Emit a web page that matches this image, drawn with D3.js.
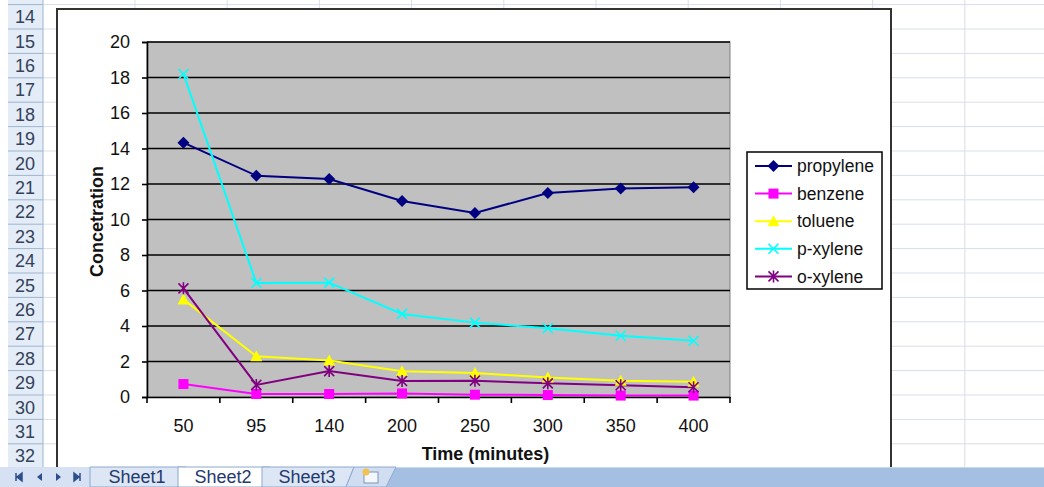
<!DOCTYPE html>
<html>
<head>
<meta charset="utf-8">
<script src="https://cdn.jsdelivr.net/npm/d3@7"></script>
<style>
  html, body { margin: 0; padding: 0; background: #ffffff; }
  svg { display: block; }
  text { font-family: "Liberation Sans", Arial, sans-serif; }
</style>
</head>
<body>
<svg id="sheet" width="1044" height="487"></svg>
<script>
// ---- data ----
const times = ["50", "95", "140", "200", "250", "300", "350", "400"];
const propylene = [14.33, 12.47, 12.28, 11.04, 10.37, 11.49, 11.74, 11.81];
const benzene   = [0.73, 0.17, 0.17, 0.20, 0.13, 0.11, 0.08, 0.08];
const toluene   = [5.5, 2.3, 2.05, 1.45, 1.35, 1.1, 0.92, 0.86];
const pXylene   = [18.2, 6.42, 6.44, 4.68, 4.19, 3.87, 3.45, 3.17];
const oXylene   = [6.12, 0.68, 1.46, 0.90, 0.92, 0.77, 0.66, 0.55];
const yTicks    = [0, 2, 4, 6, 8, 10, 12, 14, 16, 18, 20];
const rowNumbers = [14, 15, 16, 17, 18, 19, 20, 21, 22, 23, 24, 25, 26, 27, 28, 29, 30, 31, 32];
const sheetTabs = ["Sheet1", "Sheet2", "Sheet3"];

const series = [
  { name: "propylene", values: propylene, color: "#000080", marker: "diamond" },
  { name: "benzene",   values: benzene,   color: "#FF00FF", marker: "square" },
  { name: "toluene",   values: toluene,   color: "#FFFF00", marker: "triangle" },
  { name: "p-xylene",  values: pXylene,   color: "#00FFFF", marker: "cross" },
  { name: "o-xylene",  values: oXylene,   color: "#800080", marker: "star" }
];

const svg = d3.select("#sheet");
const W = 1044, H = 487;

// ---- worksheet background: cells, row headers ----
const rowTop0 = 4.6, rowH = 24.4;
const colX0 = 135, colW = 92.2;
const grid = svg.append("g");
const gridColor = "#D8DEEA";
// horizontal cell lines
for (let i = 0; i <= rowNumbers.length; i++) {
  const yy = rowTop0 + i * rowH;
  grid.append("line").attr("x1", 43).attr("x2", W).attr("y1", yy).attr("y2", yy)
    .attr("stroke", gridColor).attr("stroke-width", 1);
}
// vertical cell lines
for (let i = 0; i < 10; i++) {
  const xx = colX0 + i * colW;
  grid.append("line").attr("x1", xx).attr("x2", xx).attr("y1", 0).attr("y2", H)
    .attr("stroke", gridColor).attr("stroke-width", 1);
}
// row header column
const hdr = svg.append("g");
hdr.append("rect").attr("x", 8).attr("y", 0).attr("width", 35).attr("height", H)
  .attr("fill", "#E4ECF7");
hdr.append("line").attr("x1", 43).attr("x2", 43).attr("y1", 0).attr("y2", H)
  .attr("stroke", "#9EB6CE");
for (let i = 0; i <= rowNumbers.length; i++) {
  const yy = rowTop0 + i * rowH;
  hdr.append("line").attr("x1", 8).attr("x2", 43).attr("y1", yy).attr("y2", yy)
    .attr("stroke", "#9EB6CE");
}
hdr.selectAll("text.rownum").data(rowNumbers).join("text")
  .attr("class", "rownum")
  .attr("x", 25).attr("y", (d, i) => rowTop0 + i * rowH + rowH / 2)
  .attr("dy", "0.36em").attr("text-anchor", "middle")
  .attr("font-size", 18).attr("fill", "#33425a")
  .text(d => d);

// ---- chart object ----
const chart = { x: 57, y: 9, w: 834, h: 470 };
svg.append("rect").attr("x", chart.x).attr("y", chart.y)
  .attr("width", chart.w).attr("height", chart.h)
  .attr("fill", "#ffffff").attr("stroke", "#333333").attr("stroke-width", 2);

const plot = { left: 147, right: 730, top: 42, bottom: 397 };
const x = d3.scaleBand().domain(times).range([plot.left, plot.right]).padding(0);
const y = d3.scaleLinear().domain([0, 20]).range([plot.bottom, plot.top]);

const g = svg.append("g");
g.append("rect").attr("x", plot.left).attr("y", plot.top)
  .attr("width", plot.right - plot.left).attr("height", plot.bottom - plot.top)
  .attr("fill", "#C0C0C0").attr("stroke", "#808080").attr("stroke-width", 1);

// horizontal gridlines
g.append("g").selectAll("line").data(yTicks.filter(d => d > 0)).join("line")
  .attr("x1", plot.left).attr("x2", plot.right)
  .attr("y1", d => y(d)).attr("y2", d => y(d))
  .attr("stroke", "#000000").attr("stroke-width", 1.6);

// y axis
const yAxis = g.append("g").attr("transform", `translate(${plot.left},0)`)
  .call(d3.axisLeft(y).tickValues(yTicks).tickSize(5).tickPadding(12).tickFormat(d3.format("d")));
yAxis.select(".domain").attr("stroke", "#000").attr("stroke-width", 1.6);
yAxis.selectAll(".tick line").attr("stroke", "#000").attr("stroke-width", 1.6);
yAxis.selectAll("text").attr("font-size", 18).attr("fill", "#111")
  .attr("font-family", "Liberation Sans, Arial, sans-serif");

// x axis: labels centred in each category, ticks on category boundaries
const xAxis = g.append("g").attr("transform", `translate(0,${plot.bottom})`)
  .call(d3.axisBottom(x).tickSize(0).tickPadding(22));
xAxis.select(".domain").attr("stroke", "#000").attr("stroke-width", 1.6);
xAxis.selectAll("text").attr("font-size", 18).attr("fill", "#111")
  .attr("font-family", "Liberation Sans, Arial, sans-serif");
const bounds = times.map(t => x(t)).concat([x.range()[1]]);
g.append("g").selectAll("line").data(bounds).join("line")
  .attr("x1", d => d).attr("x2", d => d)
  .attr("y1", plot.bottom).attr("y2", plot.bottom + 6)
  .attr("stroke", "#000").attr("stroke-width", 1.6);

// axis titles
svg.append("text").attr("transform", `translate(103,${(plot.top + plot.bottom) / 2 + 2}) rotate(-90)`)
  .attr("text-anchor", "middle").attr("font-size", 18).attr("font-weight", "bold")
  .attr("fill", "#111").text("Concetration");
svg.append("text").attr("x", (plot.left + plot.right) / 2 + 47).attr("y", 460)
  .attr("text-anchor", "middle").attr("font-size", 18).attr("font-weight", "bold")
  .attr("fill", "#111").text("Time (minutes)");

// ---- markers ----
function drawMarker(sel, type, color, cx, cy) {
  const m = sel.append("g").attr("transform", `translate(${cx},${cy})`);
  if (type === "diamond") {
    m.append("path").attr("d", "M0,-6L6,0L0,6L-6,0Z").attr("fill", color);
  } else if (type === "square") {
    m.append("rect").attr("x", -5).attr("y", -5).attr("width", 10).attr("height", 10).attr("fill", color);
  } else if (type === "triangle") {
    m.append("path").attr("d", "M0,-6L6,5L-6,5Z").attr("fill", color);
  } else if (type === "cross") {
    m.append("path").attr("d", "M-5,-5L5,5M-5,5L5,-5").attr("stroke", color).attr("stroke-width", 1.6).attr("fill", "none");
  } else if (type === "star") {
    m.append("path").attr("d", "M-5,-5L5,5M-5,5L5,-5M0,-6L0,6").attr("stroke", color).attr("stroke-width", 1.6).attr("fill", "none");
  }
}

const line = d3.line().x((d, i) => x(times[i]) + x.bandwidth() / 2).y(d => y(d));
const lines = svg.append("g");
series.forEach(s => {
  lines.append("path").datum(s.values).attr("d", line)
    .attr("fill", "none").attr("stroke", s.color).attr("stroke-width", 2);
});
series.forEach(s => {
  s.values.forEach((v, i) => drawMarker(lines, s.marker, s.color, x(times[i]) + x.bandwidth() / 2, y(v)));
});

// ---- legend ----
const leg = svg.append("g");
const legBox = { x: 747, y: 152, w: 135, h: 137 };
leg.append("rect").attr("x", legBox.x).attr("y", legBox.y).attr("width", legBox.w).attr("height", legBox.h)
  .attr("fill", "#ffffff").attr("stroke", "#000").attr("stroke-width", 1.5);
series.forEach((s, i) => {
  const ly = 166 + i * 27.6;
  leg.append("line").attr("x1", 755).attr("x2", 792).attr("y1", ly).attr("y2", ly)
    .attr("stroke", s.color).attr("stroke-width", 2);
  drawMarker(leg, s.marker, s.color, 773.5, ly);
  leg.append("text").attr("x", 797).attr("y", ly).attr("dy", "0.35em")
    .attr("font-size", 17.5).attr("fill", "#111").text(s.name);
});

// ---- sheet tab bar ----
const tb = svg.append("g");
const tabTop = 467;
tb.append("rect").attr("x", 0).attr("y", tabTop).attr("width", W).attr("height", H - tabTop)
  .attr("fill", "#A5BFE2");
tb.append("line").attr("x1", 0).attr("x2", W).attr("y1", tabTop + 0.5).attr("y2", tabTop + 0.5)
  .attr("stroke", "#C9D9EE");
// navigation area
tb.append("rect").attr("x", 0).attr("y", tabTop).attr("width", 90).attr("height", H - tabTop).attr("fill", "#D6E2F3");
const navY = 477;
const navCol = "#2C4F8C";
tb.append("path").attr("d", `M16,${navY - 4}L16,${navY + 4}M22,${navY - 4}L17,${navY}L22,${navY + 4}Z`).attr("stroke", navCol).attr("fill", navCol).attr("stroke-width", 1.5);
tb.append("path").attr("d", `M42,${navY - 4}L37,${navY}L42,${navY + 4}Z`).attr("fill", navCol);
tb.append("path").attr("d", `M56,${navY - 4}L61,${navY}L56,${navY + 4}Z`).attr("fill", navCol);
tb.append("path").attr("d", `M74,${navY - 4}L79,${navY}L74,${navY + 4}ZM80,${navY - 4}L80,${navY + 4}`).attr("stroke", navCol).attr("fill", navCol).attr("stroke-width", 1.5);
// tabs
const tabShapes = [
  { x0: 90, x1: 178, fill: "#DCE6F4" },
  { x0: 178, x1: 262, fill: "#FFFFFF" },
  { x0: 262, x1: 346, fill: "#DCE6F4" }
];
tabShapes.forEach((t, i) => {
  tb.append("path")
    .attr("d", `M${t.x0},${tabTop}L${t.x1 + 8},${tabTop}L${t.x1},${H}L${t.x0},${H}Z`)
    .attr("fill", t.fill).attr("stroke", "#8DA8CF").attr("stroke-width", 1);
});
tb.selectAll("text.tab").data(sheetTabs).join("text")
  .attr("class", "tab")
  .attr("x", (d, i) => (tabShapes[i].x0 + tabShapes[i].x1) / 2 + 3)
  .attr("y", 477).attr("dy", "0.36em").attr("text-anchor", "middle")
  .attr("font-size", 18).attr("fill", "#1F3A6E").text(d => d);
// insert-sheet tab
tb.append("path").attr("d", `M354,${tabTop}L396,${tabTop}L386,${H}L346,${H}Z`)
  .attr("fill", "#D1DEF1").attr("stroke", "#8DA8CF");
tb.append("rect").attr("x", 364).attr("y", 472).attr("width", 14).attr("height", 11)
  .attr("fill", "#F4F7FC").attr("stroke", "#7D95BA");
tb.append("circle").attr("cx", 366).attr("cy", 472).attr("r", 3.5).attr("fill", "#F2C14E");
</script>
</body>
</html>
